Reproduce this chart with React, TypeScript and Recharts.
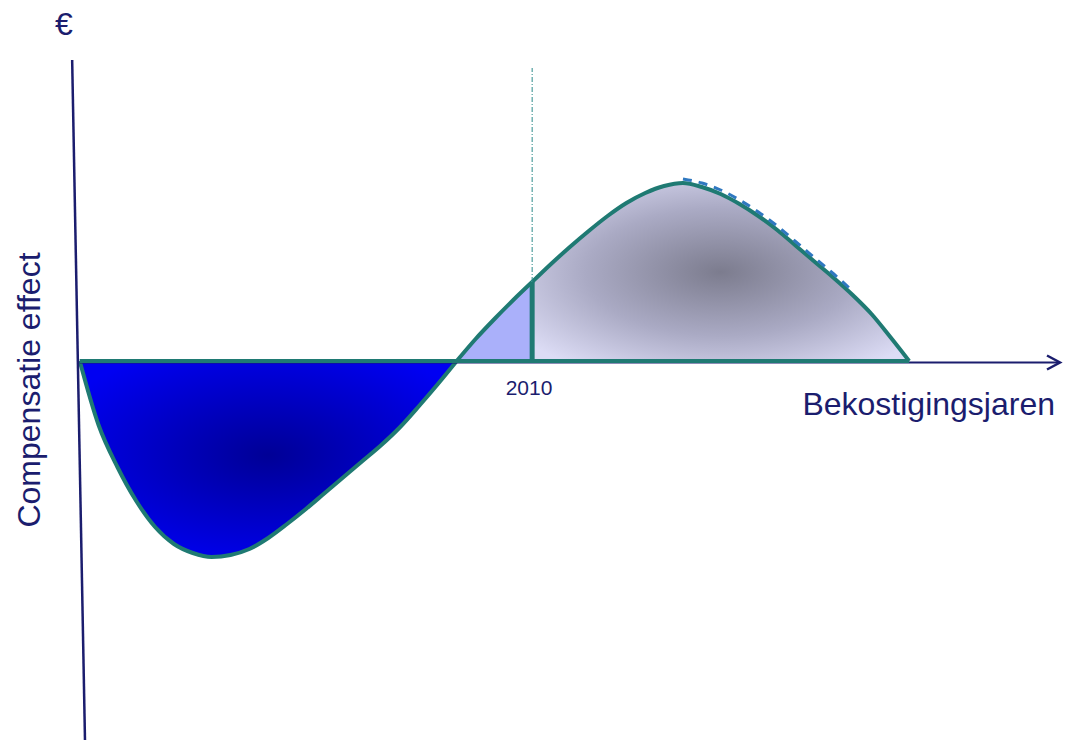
import { ComposedChart, Area, Line, XAxis, YAxis, ReferenceLine } from "recharts";

// bekostigingsjaren, kwartaalstappen
const years = [
  2004, 2004.25, 2004.5, 2004.75, 2005, 2005.25, 2005.5, 2005.75, 2006, 2006.25, 2006.5, 2006.75,
  2007, 2007.25, 2007.5, 2007.75, 2008, 2008.25, 2008.5, 2008.75, 2009, 2009.25, 2009.5, 2009.75,
  2010, 2010.25, 2010.5, 2010.75, 2011, 2011.25, 2011.5, 2011.75, 2012, 2012.25, 2012.5, 2012.75,
  2013, 2013.25, 2013.5, 2013.75, 2014, 2014.25, 2014.5, 2014.75, 2015,
];

// negatief compensatie-effect (tot 2009)
const negatief = [
  0, -64, -106, -140, -166, -183, -192, -196, -194, -188, -177, -163,
  -148, -132, -116, -100, -84, -66, -45, -23, 0,
];

// opbouw 2009 - 2010
const opbouw = [0, 22, 42, 61, 79];

// positief compensatie-effect vanaf 2010
const positief = [
  79, 97, 114, 130, 145, 158, 168, 175, 178, 174, 167, 157,
  145, 131, 115, 99, 83, 66, 47, 24, 0,
];

// gestippelde rand boven de bult (2012 - 2014.25)
const rand = [182, 178, 171, 161, 149, 135, 119, 103, 87, 70];

const data = years.map((jaar, i) => ({
  jaar,
  negatief: i <= 20 ? negatief[i] : null,
  opbouw: i >= 20 && i <= 24 ? opbouw[i - 20] : null,
  positief: i >= 24 ? positief[i - 24] : null,
  rand: i >= 32 && i <= 41 ? rand[i - 32] : null,
}));

const NAVY = "#1b1d6e";
const TEAL = "#1f7a73";

const ArrowLine = (props: any) => {
  const { x1, y1, x2, y2 } = props;
  return (
    <g>
      <line x1={x1} y1={y1} x2={x2} y2={y2} stroke={NAVY} strokeWidth={2} />
      <polyline
        points={`${x2 - 13},${y2 - 7} ${x2},${y2} ${x2 - 13},${y2 + 7}`}
        fill="none"
        stroke={NAVY}
        strokeWidth={2.5}
      />
    </g>
  );
};

export default function App() {
  return (
    <div style={{ position: "absolute", left: 0, top: 0, background: "#fff" }}>
      <ComposedChart width={1075} height={742} data={data} margin={{ top: 60, right: 15, bottom: 2, left: 42 }}>
        <defs>
          <radialGradient id="negGrad" cx="0.5" cy="0.48" r="0.6">
            <stop offset="0%" stopColor="#000096" />
            <stop offset="100%" stopColor="#0000f2" />
          </radialGradient>
          <radialGradient id="posGrad" cx="0.5" cy="0.5" r="0.65">
            <stop offset="0%" stopColor="#7c7c8e" />
            <stop offset="55%" stopColor="#aaaac4" />
            <stop offset="100%" stopColor="#dcdcf5" />
          </radialGradient>
        </defs>
        <XAxis dataKey="jaar" type="number" domain={[2003.5, 2017]} hide />
        <YAxis type="number" domain={[-379, 301]} hide />

        <ReferenceLine
          segment={[{ x: 2004, y: -1.5 }, { x: 2017, y: -1.5 }]}
          shape={ArrowLine}
          ifOverflow="visible"
        />
        <ReferenceLine
          segment={[{ x: 2003.9, y: 301 }, { x: 2004.07, y: -379 }]}
          stroke={NAVY}
          strokeWidth={2.5}
          ifOverflow="visible"
        />

        <Area
          dataKey="negatief"
          type="monotone"
          baseValue={0}
          fill="url(#negGrad)"
          fillOpacity={1}
          stroke={TEAL}
          strokeWidth={4}
          isAnimationActive={false}
        />
        <Area
          dataKey="opbouw"
          type="monotone"
          baseValue={0}
          fill="#aab0fa"
          fillOpacity={1}
          stroke={TEAL}
          strokeWidth={4}
          isAnimationActive={false}
        />
        <Area
          dataKey="positief"
          type="monotone"
          baseValue={0}
          fill="url(#posGrad)"
          fillOpacity={1}
          stroke={TEAL}
          strokeWidth={4}
          isAnimationActive={false}
        />
        <Line
          dataKey="rand"
          type="monotone"
          stroke="#2f78c0"
          strokeWidth={3}
          strokeDasharray="9 7"
          dot={false}
          isAnimationActive={false}
        />

        <ReferenceLine segment={[{ x: 2004, y: 0 }, { x: 2015, y: 0 }]} stroke={TEAL} strokeWidth={4} />
        <ReferenceLine segment={[{ x: 2010, y: 0 }, { x: 2010, y: 79 }]} stroke={TEAL} strokeWidth={5} />
        <ReferenceLine
          segment={[{ x: 2010, y: 79 }, { x: 2010, y: 293 }]}
          stroke="#2a8a8a"
          strokeWidth={1}
          strokeDasharray="5 2 1 2"
        />

        <text x={64} y={35} textAnchor="middle" fontFamily="Liberation Sans, Arial" fontSize={32} fill={NAVY}>
          €
        </text>
        <text
          x={40}
          y={390}
          transform="rotate(-90 40 390)"
          textAnchor="middle"
          fontFamily="Liberation Sans, Arial"
          fontSize={32}
          fill={NAVY}
        >
          Compensatie effect
        </text>
        <text x={1055} y={415} textAnchor="end" fontFamily="Liberation Sans, Arial" fontSize={32} fill={NAVY}>
          Bekostigingsjaren
        </text>
        <text x={529} y={395} textAnchor="middle" fontFamily="Liberation Sans, Arial" fontSize={21} fill={NAVY}>
          2010
        </text>
      </ComposedChart>
    </div>
  );
}
